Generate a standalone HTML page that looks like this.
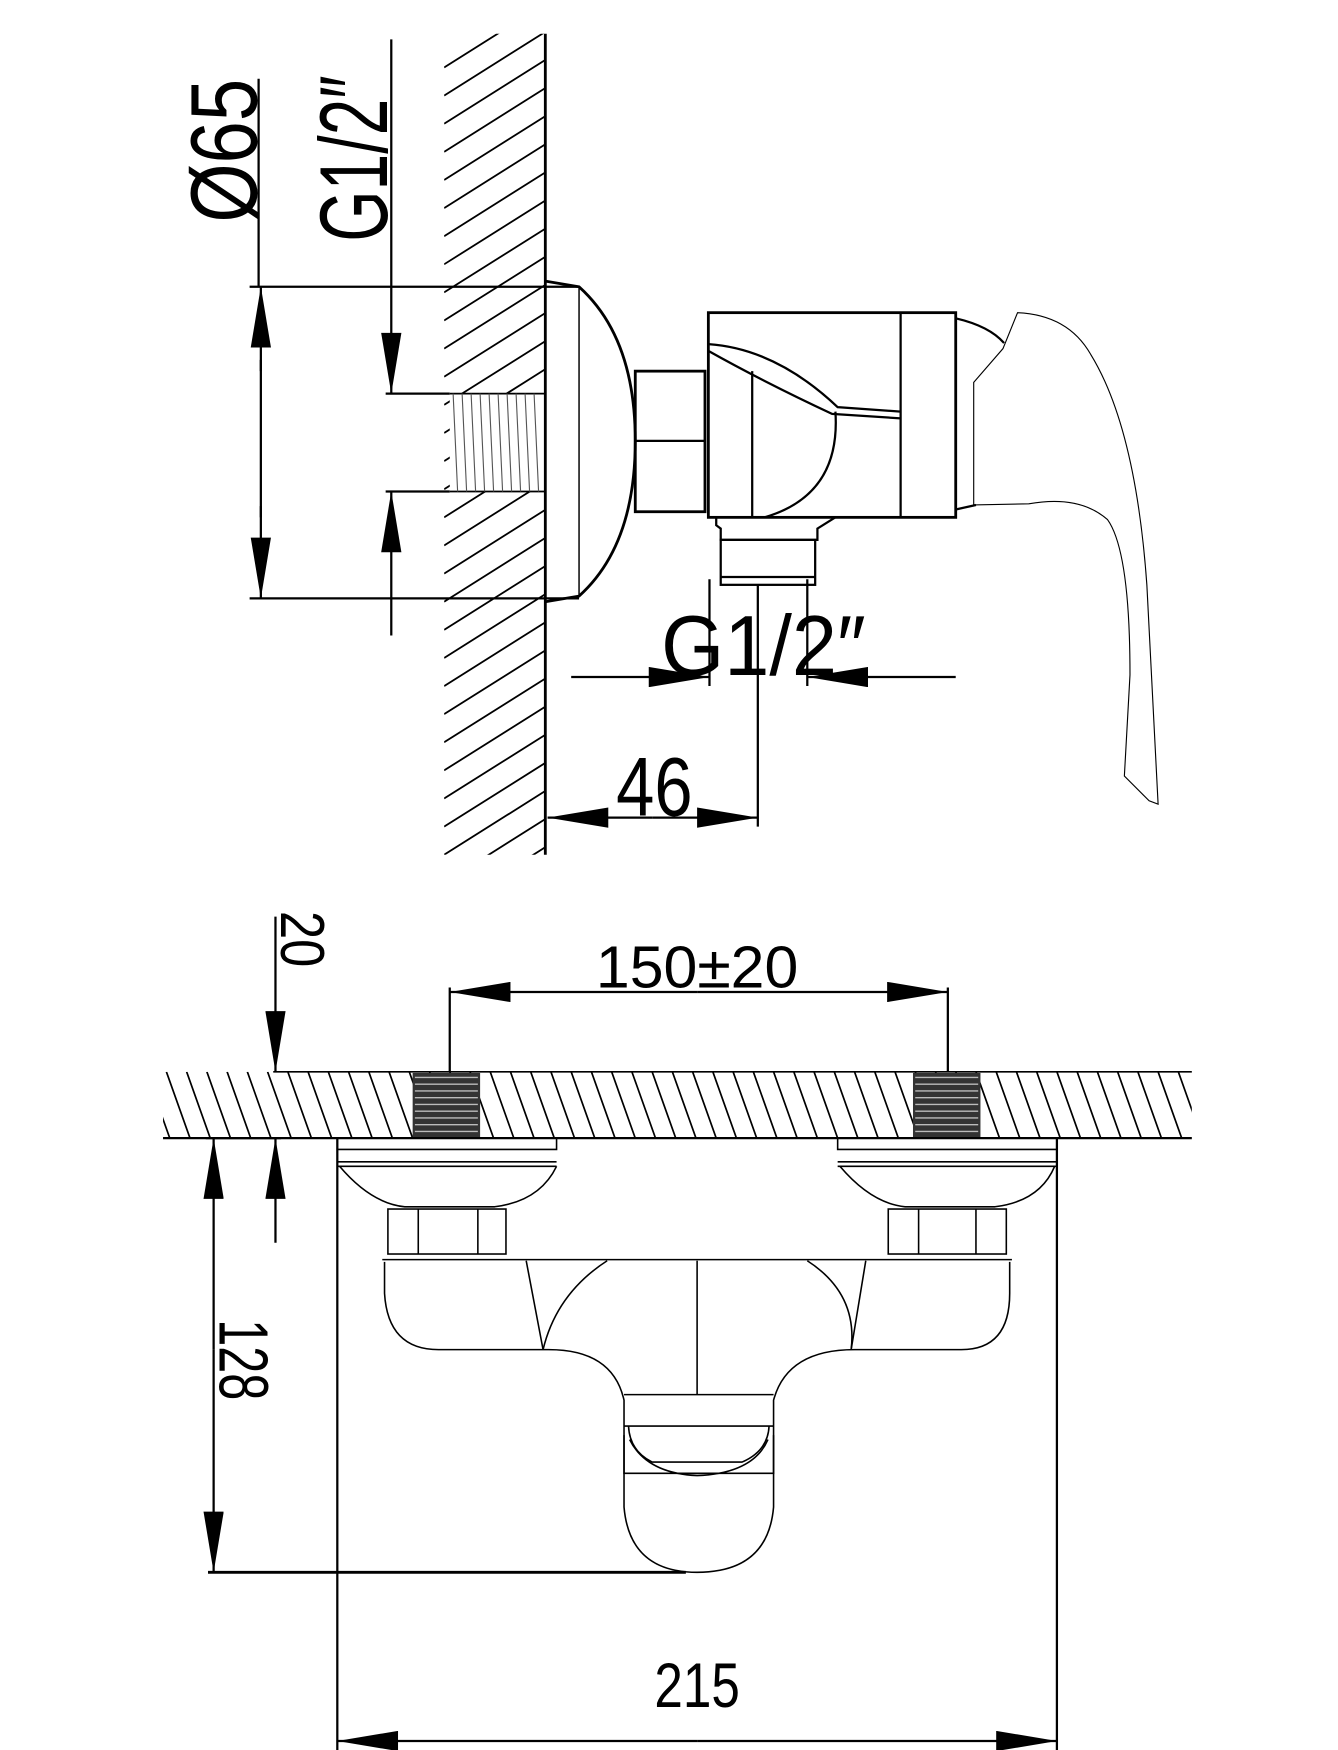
<!DOCTYPE html>
<html><head><meta charset="utf-8"><style>
html,body{margin:0;padding:0;background:#fff;}
svg{display:block;}
text{font-family:"Liberation Sans",sans-serif;fill:#000;}
</style></head><body>
<svg width="1338" height="1750" viewBox="0 0 1190 1556" preserveAspectRatio="none" xmlns="http://www.w3.org/2000/svg">
<defs>
<clipPath id="wallTop"><rect x="395" y="30" width="90" height="730"/></clipPath>
<clipPath id="wallBot"><rect x="145" y="953" width="915" height="59"/></clipPath>
<marker id="a" viewBox="0 0 60 20" refX="60" refY="10" markerWidth="60" markerHeight="18" markerUnits="userSpaceOnUse" orient="auto"><path d="M0,0 L60,10 L0,20 Z" fill="#000"/></marker>
</defs>
<g stroke="#000" fill="none" stroke-width="2">
<g clip-path="url(#wallTop)" stroke-width="1.6">
<path d="M395,60 l100,-63 M395,85 l100,-63 M395,110 l100,-63 M395,135 l100,-63 M395,160 l100,-63 M395,185 l100,-63 M395,210 l100,-63 M395,235 l100,-63 M395,260 l100,-63 M395,285 l100,-63 M395,310 l100,-63 M395,335 l100,-63 M395,360 l100,-63 M395,385 l100,-63 M395,410 l100,-63 M395,435 l100,-63 M395,460 l100,-63 M395,485 l100,-63 M395,510 l100,-63 M395,535 l100,-63 M395,560 l100,-63 M395,585 l100,-63 M395,610 l100,-63 M395,635 l100,-63 M395,660 l100,-63 M395,685 l100,-63 M395,710 l100,-63 M395,735 l100,-63 M395,760 l100,-63 M395,785 l100,-63 M395,810 l100,-63"/>
</g>
<rect x="400" y="350" width="85" height="87" fill="#fff" stroke="none"/>
<line x1="485" y1="30" x2="485" y2="760" stroke-width="2.5"/>
<path d="M400,350 L485,350 M400,437 L485,437" stroke-width="1.5"/>
<path d="M403,350 l4,87 M411,350 l4,87 M419,350 l4,87 M427,350 l4,87 M435,350 l4,87 M443,350 l4,87 M451,350 l4,87 M459,350 l4,87 M467,350 l4,87 M475,350 l4,87" stroke-width="1" stroke="#555"/>
<line x1="230" y1="70" x2="230" y2="255"/>
<line x1="222" y1="255" x2="515" y2="255"/>
<line x1="222" y1="532" x2="515" y2="532"/>
<line x1="232" y1="330" x2="232" y2="255" marker-end="url(#a)"/>
<line x1="232" y1="450" x2="232" y2="532" marker-end="url(#a)"/>
<line x1="232" y1="320" x2="232" y2="460"/>
<line x1="348" y1="35" x2="348" y2="350" marker-end="url(#a)"/>
<line x1="348" y1="565" x2="348" y2="437" marker-end="url(#a)"/>
<line x1="343" y1="350" x2="400" y2="350"/>
<line x1="343" y1="437" x2="400" y2="437"/>
<path d="M485,250 L515,255 Q565,300 565,392 Q565,485 515,530 L485,535" stroke-width="2.5"/>
<line x1="515" y1="255" x2="515" y2="530" stroke-width="1.3"/>
<rect x="565" y="330" width="62" height="125" stroke-width="2.5"/>
<line x1="565" y1="392" x2="627" y2="392"/>
<rect x="630" y="278" width="220" height="182" stroke-width="2.5"/>
<line x1="801" y1="278" x2="801" y2="460"/>
<path d="M630,312 Q680,340 740,368 L801,372"/>
<path d="M630,306 Q690,310 745,362 L801,366"/>
<line x1="669" y1="330" x2="669" y2="460"/>
<path d="M743,366 Q748,440 680,460"/>
<path d="M850,283 Q880,290 893,305"/>
<path d="M850,453 L868,449"/>
<path d="M866,449 L866,340 L892,310 L905,278 Q950,280 970,315 Q1010,380 1020,520 L1030,715 L1022,712 L1000,690 L1005,600 Q1005,490 985,462 Q960,440 915,448 L866,449 Z" stroke-width="1"/>
<path d="M637,460 L637,467 L641,470 L641,480 L727,480 L727,470 L743,460" stroke-width="2"/>
<rect x="641" y="480" width="84" height="40" stroke-width="2"/>
<line x1="641" y1="513" x2="725" y2="513"/>
<line x1="631" y1="515" x2="631" y2="610"/>
<line x1="718" y1="515" x2="718" y2="610"/>
<line x1="674" y1="520" x2="674" y2="735"/>
<line x1="508" y1="602" x2="631" y2="602" marker-end="url(#a)"/>
<line x1="850" y1="602" x2="718" y2="602" marker-end="url(#a)"/>
<line x1="580" y1="727" x2="487" y2="727" marker-end="url(#a)"/>
<line x1="580" y1="727" x2="674" y2="727" marker-end="url(#a)"/>

<g clip-path="url(#wallBot)" stroke-width="1.5">
<path d="M130,953 l21,59 M148,953 l21,59 M166,953 l21,59 M184,953 l21,59 M202,953 l21,59 M220,953 l21,59 M238,953 l21,59 M256,953 l21,59 M274,953 l21,59 M292,953 l21,59 M310,953 l21,59 M328,953 l21,59 M346,953 l21,59 M364,953 l21,59 M382,953 l21,59 M400,953 l21,59 M418,953 l21,59 M436,953 l21,59 M454,953 l21,59 M472,953 l21,59 M490,953 l21,59 M508,953 l21,59 M526,953 l21,59 M544,953 l21,59 M562,953 l21,59 M580,953 l21,59 M598,953 l21,59 M616,953 l21,59 M634,953 l21,59 M652,953 l21,59 M670,953 l21,59 M688,953 l21,59 M706,953 l21,59 M724,953 l21,59 M742,953 l21,59 M760,953 l21,59 M778,953 l21,59 M796,953 l21,59 M814,953 l21,59 M832,953 l21,59 M850,953 l21,59 M868,953 l21,59 M886,953 l21,59 M904,953 l21,59 M922,953 l21,59 M940,953 l21,59 M958,953 l21,59 M976,953 l21,59 M994,953 l21,59 M1012,953 l21,59 M1030,953 l21,59 M1048,953 l21,59"/>
</g>
<rect x="367" y="954" width="60" height="57" fill="#333" stroke="none"/>
<rect x="812" y="954" width="60" height="57" fill="#333" stroke="none"/>
<path d="M369,958 h56 M369,964 h56 M369,970 h56 M369,976 h56 M369,982 h56 M369,988 h56 M369,994 h56 M369,1000 h56 M369,1006 h56 M814,958 h56 M814,964 h56 M814,970 h56 M814,976 h56 M814,982 h56 M814,988 h56 M814,994 h56 M814,1000 h56 M814,1006 h56" stroke="#bbb" stroke-width="1.2"/>
<line x1="243" y1="953" x2="1060" y2="953" stroke-width="1.5"/>
<line x1="145" y1="1012" x2="1060" y2="1012" stroke-width="2"/>
<line x1="245" y1="815" x2="245" y2="953" marker-end="url(#a)"/>
<line x1="245" y1="1105" x2="245" y2="1012" marker-end="url(#a)"/>
<line x1="400" y1="878" x2="400" y2="953"/>
<line x1="843" y1="878" x2="843" y2="953"/>
<line x1="620" y1="882" x2="400" y2="882" marker-end="url(#a)"/>
<line x1="620" y1="882" x2="843" y2="882" marker-end="url(#a)"/>
<line x1="300" y1="1012" x2="300" y2="1556"/>
<line x1="940" y1="1012" x2="940" y2="1556"/>
<line x1="620" y1="1548" x2="300" y2="1548" marker-end="url(#a)"/>
<line x1="620" y1="1548" x2="940" y2="1548" marker-end="url(#a)"/>
<line x1="190" y1="1200" x2="190" y2="1012" marker-end="url(#a)"/>
<line x1="190" y1="1200" x2="190" y2="1398" marker-end="url(#a)"/>
<line x1="185" y1="1398" x2="610" y2="1398" stroke-width="2.5"/>
<line x1="183" y1="1012" x2="250" y2="1012"/>
<g stroke-width="1.4">
<path d="M300,1012 L300,1022 L495,1022 L495,1012"/>
<path d="M300,1033 L495,1033 M300,1037 L495,1037"/>
<path d="M302,1037 Q330,1070 360,1073 L440,1073 Q480,1068 495,1037"/>
<path d="M745,1012 L745,1022 L940,1022 L940,1012"/>
<path d="M745,1033 L940,1033 M745,1037 L940,1037"/>
<path d="M747,1037 Q775,1070 805,1073 L885,1073 Q925,1068 938,1037"/>
<rect x="345" y="1075" width="105" height="40"/>
<line x1="372" y1="1075" x2="372" y2="1115"/><line x1="425" y1="1075" x2="425" y2="1115"/>
<rect x="790" y="1075" width="105" height="40"/>
<line x1="817" y1="1075" x2="817" y2="1115"/><line x1="868" y1="1075" x2="868" y2="1115"/>
<path d="M340,1120 L900,1120"/>
<path d="M342,1122 L342,1150 Q345,1200 390,1200 L488,1200 Q545,1200 555,1245 L555,1310 L688,1310 L688,1245 Q700,1200 760,1200 L855,1200 Q898,1200 898,1150 L898,1122"/>
<path d="M468,1121 L483,1200 M770,1121 L757,1200"/>
<path d="M540,1121 Q495,1150 483,1200 M718,1121 Q763,1150 757,1200"/>
<line x1="620" y1="1121" x2="620" y2="1240"/>
<line x1="555" y1="1240" x2="688" y2="1240"/>
<line x1="555" y1="1268" x2="688" y2="1268"/>
<path d="M559,1268 Q560,1290 580,1300 L660,1300 Q683,1290 684,1268"/>
<path d="M555,1276 L555,1340 Q560,1398 620,1398 Q683,1398 688,1340 L688,1276"/>
<path d="M560,1280 Q575,1310 620,1312 Q670,1310 683,1280"/>
</g>
</g>
<text font-size="84" transform="translate(228,198) rotate(-90)" textLength="128" lengthAdjust="spacingAndGlyphs">Ø65</text>
<text font-size="86" transform="translate(344,215) rotate(-90)" textLength="148" lengthAdjust="spacingAndGlyphs">G1/2″</text>
<text font-size="76" x="588" y="600" textLength="182" lengthAdjust="spacingAndGlyphs">G1/2″</text>
<text font-size="74" x="548" y="725" textLength="68" lengthAdjust="spacingAndGlyphs">46</text>
<text font-size="55" transform="translate(250,810) rotate(90)" textLength="50" lengthAdjust="spacingAndGlyphs">20</text>
<text font-size="53" x="530" y="878" textLength="180" lengthAdjust="spacingAndGlyphs">150±20</text>
<text font-size="62" transform="translate(195,1173) rotate(90)" textLength="72" lengthAdjust="spacingAndGlyphs">128</text>
<text font-size="56" x="582" y="1518" textLength="76" lengthAdjust="spacingAndGlyphs">215</text>
</svg>
</body></html>
